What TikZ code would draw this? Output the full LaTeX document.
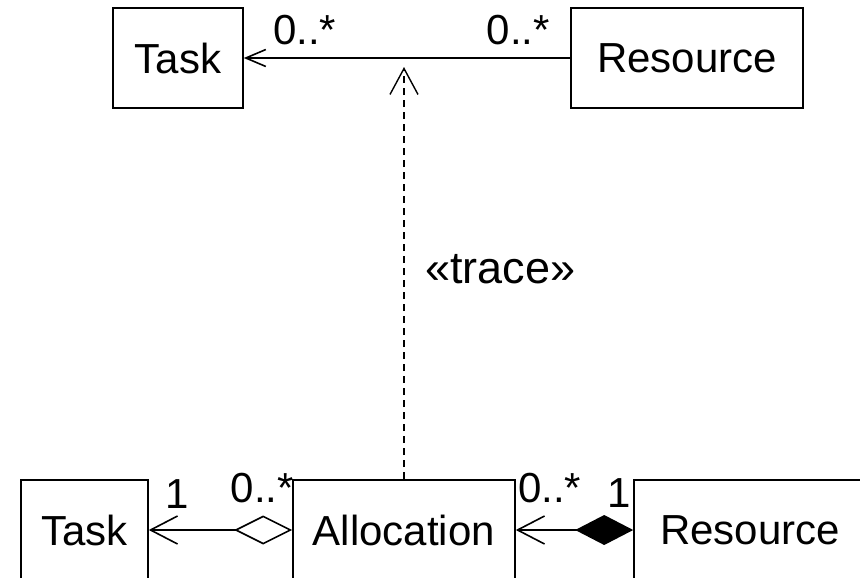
\documentclass[tikz,border=0pt]{standalone}
\usepackage{fontspec}
\setmainfont{Liberation Sans}
\usetikzlibrary{arrows.meta, positioning}

\begin{document}
\begin{tikzpicture}[
  x=1pt,y=-1pt,
  cls/.style={draw, line width=1.6pt, minimum height=100pt, inner sep=0pt, font=\fontsize{42}{50}\selectfont},
  mult/.style={inner sep=0pt, font=\fontsize{42}{50}\selectfont},
  assoc/.style={line width=1.6pt, -{Straight Barb[length=20pt, width=17pt]}},
  agg/.style={line width=1.6pt, {Diamond[open, length=58pt, width=29pt]}-{Straight Barb[length=27pt, width=28pt]}},
  comp/.style={line width=1.6pt, {Diamond[length=58pt, width=30pt]}-{Straight Barb[length=27pt, width=28pt]}},
  trace/.style={line width=1.4pt, dash pattern=on 7pt off 5pt, -{Straight Barb[length=26pt, width=28pt]}}
]
\useasboundingbox (0,0) rectangle (860,579);
\clip (0,0) rectangle (860,577.5);

% top: analysis model
\node[cls, minimum width=130pt] (taskTop) at (178,58) {Task};
\node[cls, minimum width=232pt] (resTop) at (687,58) {Resource};
\draw[assoc] (resTop.west) -- (taskTop.east);
\node[mult, anchor=base west] (mTaskTop) at (273,44) {0..*};
\node[mult, anchor=base east] (mResTop) at (550,44) {0..*};

% bottom: design model
\node[cls, minimum width=127pt] (taskBot) at (84.5,530) {Task};
\node[cls, minimum width=222pt] (alloc) at (404,530) {Allocation};
\node[cls, minimum width=232pt] (resBot) at (750,530) {Resource};
\draw[agg] (alloc.west) -- (taskBot.east);
\draw[comp] (resBot.west) -- (alloc.east);
\node[mult, anchor=base] (mTaskBot) at (177,508) {1};
\node[mult, anchor=base east] (mAllocL) at (294,502) {0..*};
\node[mult, anchor=base west] (mAllocR) at (518,502) {0..*};
\node[mult, anchor=base] (mResBot) at (619,507) {1};

% trace dependency
\coordinate (traceTip) at (404,67);
\draw[trace] (alloc.north) -- (traceTip);
\node[mult, anchor=base west, font=\fontsize{45}{52}\selectfont] (traceLbl) at (425,283) {«trace»};

\end{tikzpicture}
\end{document}
